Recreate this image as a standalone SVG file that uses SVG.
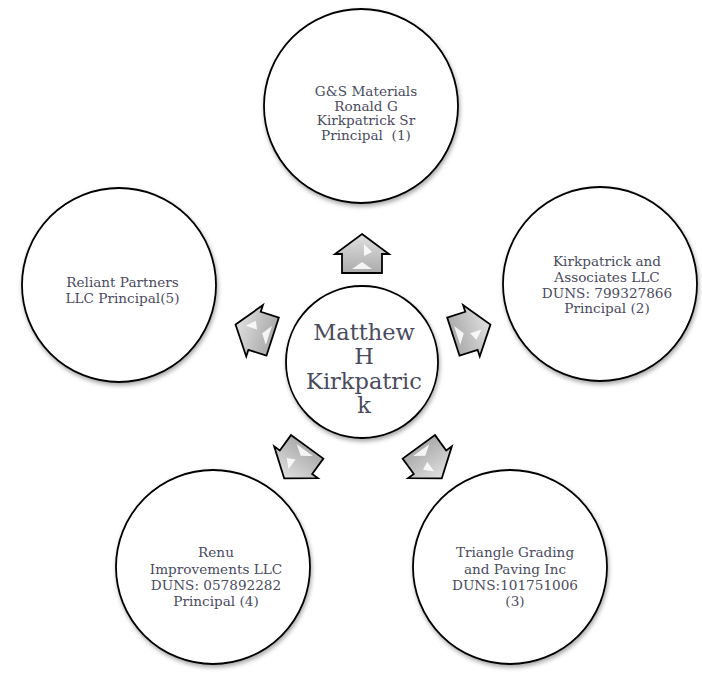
<svg xmlns="http://www.w3.org/2000/svg" width="702" height="684" viewBox="0 0 702 684">
<style>
.node{fill:#fff;stroke:#000;stroke-width:1.8;filter:url(#sh)}
.t{font-family:"DejaVu Serif","Liberation Serif",serif;font-size:13.6px;fill:#4a4b5e;text-anchor:middle}
.tc{font-family:"DejaVu Serif","Liberation Serif",serif;font-size:22.5px;fill:#4a4b5e;text-anchor:middle}
.arr{fill:url(#ag);stroke:#000;stroke-width:1.8;stroke-linejoin:miter}
.hl{fill:#fff;opacity:0.85}
</style>
<defs>
<filter id="sh" x="-20%" y="-20%" width="140%" height="140%">
<feDropShadow dx="1" dy="2.5" stdDeviation="2" flood-color="#000" flood-opacity="0.35"/>
</filter>
<linearGradient id="ag" x1="0" y1="0" x2="0" y2="1">
<stop offset="0" stop-color="#e0e0e0"/>
<stop offset="1" stop-color="#ababab"/>
</linearGradient>
<g id="arrow">
<path class="arr" d="M0,-134 L27,-114 L20,-114 L20,-95 L-20,-95 L-20,-114 L-27,-114 Z"/>
<path class="hl" d="M2,-124 L10,-116 L2,-112 Z"/>
<path class="hl" d="M-10,-99 L10,-99 L0,-106 Z"/>
</g>
</defs>
<g id="connectors">
<use href="#arrow" transform="translate(362,368) rotate(0)"/>
<use href="#arrow" transform="translate(363,366) rotate(72)"/>
<use href="#arrow" transform="translate(363,370) rotate(144)"/>
<use href="#arrow" transform="translate(363,370) rotate(216)"/>
<use href="#arrow" transform="translate(363,366) rotate(288)"/>
</g>
<g id="center">
<circle class="node" cx="362" cy="362" r="76"/>
<text class="tc" x="364" y="340">Matthew</text>
<text class="tc" x="364" y="364">H</text>
<text class="tc" x="364" y="389">Kirkpatric</text>
<text class="tc" x="364" y="413">k</text>
</g>
<g id="n1">
<circle class="node" cx="361" cy="106" r="97"/>
<text class="t" x="366" y="96">G&amp;S Materials</text>
<text class="t" x="366" y="110.5">Ronald G</text>
<text class="t" x="366" y="125">Kirkpatrick Sr</text>
<text class="t" x="366" y="139.5">Principal&#160; (1)</text>
</g>
<g id="n2">
<circle class="node" cx="600" cy="284" r="97"/>
<text class="t" x="607" y="266">Kirkpatrick and</text>
<text class="t" x="607" y="282">Associates LLC</text>
<text class="t" x="607" y="297.5">DUNS: 799327866</text>
<text class="t" x="607" y="313">Principal (2)</text>
</g>
<g id="n3">
<circle class="node" cx="510" cy="567" r="97"/>
<text class="t" x="515" y="557">Triangle Grading</text>
<text class="t" x="515" y="573.5">and Paving Inc</text>
<text class="t" x="515" y="589.5">DUNS:101751006</text>
<text class="t" x="515" y="606">(3)</text>
</g>
<g id="n4">
<circle class="node" cx="213" cy="567" r="97"/>
<text class="t" x="216" y="557">Renu</text>
<text class="t" x="216" y="573.5">Improvements LLC</text>
<text class="t" x="216" y="589.5">DUNS: 057892282</text>
<text class="t" x="216" y="606">Principal (4)</text>
</g>
<g id="n5">
<circle class="node" cx="119" cy="285" r="97"/>
<text class="t" x="122.5" y="287">Reliant Partners</text>
<text class="t" x="122.5" y="303">LLC Principal(5)</text>
</g>
</svg>
